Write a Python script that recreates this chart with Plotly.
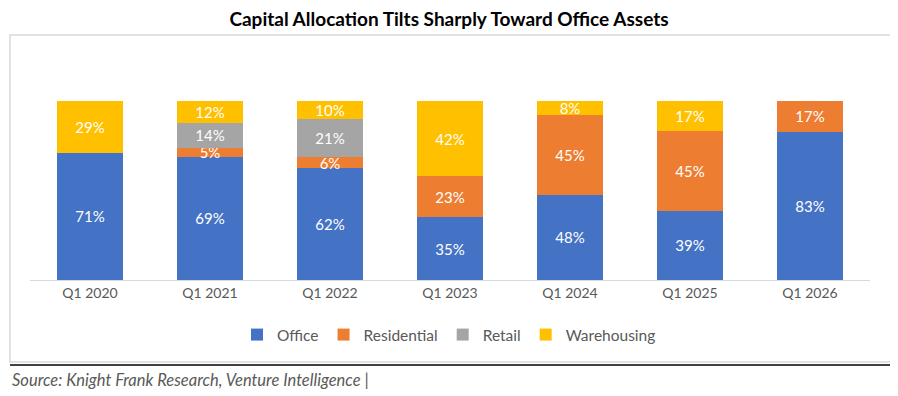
import plotly.graph_objects as go

categories = ["Q1 2020", "Q1 2021", "Q1 2022", "Q1 2023", "Q1 2024", "Q1 2025", "Q1 2026"]
office = [71, 69, 62, 35, 48, 39, 83]
residential = [0, 5, 6, 23, 45, 45, 17]
retail = [0, 14, 21, 0, 0, 0, 0]
warehousing = [29, 12, 10, 42, 8, 17, 0]

series = [
    ("Office", office, "#4472C4"),
    ("Residential", residential, "#ED7D31"),
    ("Retail", retail, "#A5A5A5"),
    ("Warehousing", warehousing, "#FFC000"),
]

fig = go.Figure()
for name, vals, color in series:
    fig.add_trace(go.Bar(
        name=name, x=categories, y=vals, marker_color=color, marker_line_width=0,
        text=[f"{v}%" if v > 0 else "" for v in vals],
        textposition="inside", insidetextanchor="middle", textangle=0,
        textfont=dict(color="white", size=15, family="Lato"),
        constraintext="none", cliponaxis=False,
    ))

# the page body adds an 8px offset; all pixel targets below are screen coords
OFF = 8
W, H = 890, 388
L, R, T = 30 - OFF, 898 - 870, 101 - OFF
B = H - (280 - OFF)
pw, ph = W - L - R, H - T - B

def px(x):
    return (x - OFF - L) / pw

def py(y):
    return (H - B - (y - OFF)) / ph

fig.update_layout(
    width=W, height=H, barmode="stack", barnorm="percent", bargap=0.45,
    margin=dict(l=L, r=R, t=T, b=B),
    paper_bgcolor="white", plot_bgcolor="white",
    font=dict(family="Lato", color="#595959"),
    title=dict(text="<b>Capital Allocation Tilts Sharply Toward Office Assets</b>",
               x=px(449), xref="paper", xanchor="center", y=1 - (19 - OFF) / H, yanchor="middle",
               font=dict(size=19, color="black", family="Lato")),
    xaxis=dict(showgrid=False, showline=True, linecolor="#D9D9D9", linewidth=1,
               ticks="", tickfont=dict(size=14, color="#595959", family="Lato")),
    yaxis=dict(visible=False, range=[0, 100.05]),
    legend=dict(orientation="h", x=px(449), xanchor="center", y=py(335), yanchor="middle",
                font=dict(size=15.5, color="#595959", family="Lato"),
                itemwidth=30, traceorder="normal"),
    shapes=[
        dict(type="rect", xref="paper", yref="paper", x0=px(10), x1=px(895), y0=py(362), y1=py(35),
             line=dict(color="#D9D9D9", width=1.5), fillcolor="rgba(0,0,0,0)", layer="below"),
        dict(type="line", xref="paper", yref="paper", x0=px(10), x1=px(898), y0=py(365), y1=py(365),
             line=dict(color="black", width=1.5)),
    ],
    annotations=[
        dict(text="<i>Source: Knight Frank Research, Venture Intelligence |</i>", xref="paper", yref="paper",
             x=px(10), y=py(380), xanchor="left", yanchor="middle", showarrow=False,
             font=dict(size=16.5, color="#595959", family="Lato")),
    ],
)

fig.write_html("out.html")
